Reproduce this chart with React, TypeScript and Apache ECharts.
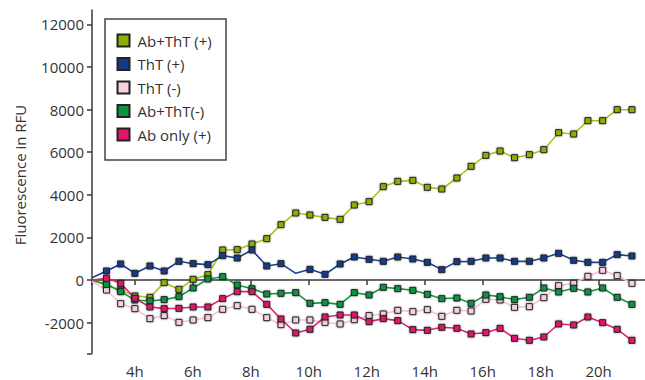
import React, { useEffect, useRef } from "react";
import * as echarts from "echarts";

const times = [2.52, 3.02, 3.51, 4.0, 4.52, 5.01, 5.52, 6.01, 6.52, 7.03, 7.53, 8.04, 8.55, 9.04, 9.55, 10.04, 10.56, 11.08, 11.57, 12.08, 12.57, 13.07, 13.59, 14.09, 14.59, 15.11, 15.6, 16.11, 16.6, 17.1, 17.61, 18.11, 18.62, 19.14, 19.63, 20.14, 20.64, 21.15];

const abThtPos = [-50, -235, -470, -750, -813, -125, -438, 31, 250, 1408, 1423, 1689, 1939, 2596, 3144, 3050, 2940, 2846, 3519, 3675, 4379, 4629, 4676, 4348, 4270, 4786, 5333, 5849, 6053, 5740, 5881, 6115, 6913, 6850, 7476, 7476, 7992, 7992];
const thtPos = [109, 422, 751, 313, 657, 422, 876, 766, 719, 1142, 1032, 1408, 657, 766, 313, 500, 266, 751, 1079, 970, 876, 1079, 985, 829, 485, 860, 876, 1032, 1032, 876, 876, 1032, 1251, 923, 829, 829, 1189, 1126];
const thtNeg = [-78, -469, -1110, -1345, -1814, -1673, -1986, -1877, -1767, -1376, -1204, -1376, -1767, -2096, -1877, -1877, -1990, -2064, -1861, -1673, -1595, -1423, -1486, -1392, -1705, -1423, -1455, -907, -938, -1282, -1251, -829, -266, -156, 172, 454, 203, -156];
const abThtNeg = [0, -203, -547, -938, -985, -923, -782, -375, 47, 156, -235, -407, -657, -626, -594, -1095, -1064, -1142, -594, -704, -344, -407, -485, -673, -876, -845, -1095, -704, -782, -923, -813, -375, -563, -391, -563, -375, -813, -1142];
const abOnly = [0, 78, -156, -860, -1267, -1345, -1329, -1267, -1267, -876, -547, -547, -1142, -1830, -2487, -2315, -1736, -1642, -1642, -1955, -1814, -1908, -2330, -2362, -2221, -2268, -2534, -2471, -2268, -2737, -2831, -2675, -2064, -2111, -1736, -2002, -2315, -2831];

const seriesNames = ["Ab+ThT (+)", "ThT (+)", "ThT (-)", "Ab+ThT(-)", "Ab only (+)"];
const xTickLabels = [4, 6, 8, 10, 12, 14, 16, 18, 20];
const yTickLabels = [-2000, 0, 2000, 4000, 6000, 8000, 10000, 12000];

const X_MIN = 2.52;
const X_MAX = 21.6;
const Y_MIN = -3440;
const Y_MAX = 12670;

const FONT = "'Open Sans', 'Noto Sans', sans-serif";

export default function App() {
  const ref = useRef<HTMLDivElement>(null);
  useEffect(() => {
    if (!ref.current) return;
    const chart = echarts.init(ref.current, undefined, { renderer: "svg" });

    const mk = (vals: number[], hidden: number[]) =>
      vals.map((v, i) =>
        hidden.includes(i) ? { value: [times[i], v], symbol: "none" } : { value: [times[i], v] }
      );

    const defs = [
      { name: seriesNames[0], vals: abThtPos, line: "#a8c61a", fill: "#8cb000", hidden: [0] },
      { name: seriesNames[1], vals: thtPos, line: "#1d3f8f", fill: "#163a8a", hidden: [0, 14] },
      { name: seriesNames[2], vals: thtNeg, line: "#f7c3d6", fill: "#f9cfe0", hidden: [0] },
      { name: seriesNames[3], vals: abThtNeg, line: "#129a45", fill: "#0a9440", hidden: [0] },
      { name: seriesNames[4], vals: abOnly, line: "#e4206f", fill: "#e0156c", hidden: [0] },
    ];

    chart.setOption({
      animation: false,
      textStyle: { fontFamily: FONT },
      grid: { left: 92, right: 0, top: 10, bottom: 26.7, containLabel: false },
      xAxis: {
        type: "value",
        min: X_MIN,
        max: X_MAX,
        axisLine: { show: true, lineStyle: { color: "#3a3a3a", width: 1.5 } },
        axisTick: {
          show: true,
          length: 5,
          inside: false,
          customValues: [X_MIN, ...xTickLabels],
          lineStyle: { color: "#3a3a3a", width: 1.5 },
        },
        axisLabel: {
          customValues: xTickLabels,
          formatter: (v: number) => `${v}h`,
          color: "#333",
          fontSize: 15,
          lineHeight: 15,
          margin: 10,
          fontFamily: FONT,
        },
        splitLine: { show: false },
      },
      yAxis: {
        type: "value",
        min: Y_MIN,
        max: Y_MAX,
        axisLine: { show: true, lineStyle: { color: "#3a3a3a", width: 1.5 } },
        axisTick: {
          show: true,
          length: 5,
          inside: false,
          customValues: [Y_MIN, ...yTickLabels],
          lineStyle: { color: "#3a3a3a", width: 1.5 },
        },
        axisLabel: {
          customValues: yTickLabels,
          formatter: (v: number) => String(v),
          color: "#333",
          fontSize: 15,
          margin: 8,
          fontFamily: FONT,
        },
        splitLine: { show: false },
      },
      legend: {
        orient: "vertical",
        left: 116.5,
        top: 33,
        padding: 0,
        itemWidth: 12,
        itemHeight: 12,
        itemGap: 8.5,
        z: 10,
        icon: "rect",
        data: seriesNames,
        textStyle: { fontSize: 15, color: "#333", fontFamily: FONT, lineHeight: 15, padding: [0, 0, 0, 3] },
      },
      graphic: [
        {
          type: "rect",
          z: 5,
          shape: { x: 105, y: 19, width: 121, height: 141 },
          style: { fill: "#fff", stroke: "#444", lineWidth: 1.5 },
        },
        {
          type: "text",
          x: 20,
          y: 175,
          rotation: Math.PI / 2,
          style: {
            text: "Fluorescence in RFU",
            fill: "#333",
            fontSize: 15,
            fontFamily: FONT,
            align: "center",
            verticalAlign: "middle",
          },
        },
      ],
      series: defs.map((d) => ({
        name: d.name,
        type: "line",
        data: mk(d.vals, d.hidden),
        symbol: "rect",
        symbolSize: 6,
        showAllSymbol: true,
        lineStyle: { color: d.line, width: 1.6 },
        itemStyle: {
          color: d.fill,
          borderColor: "#222",
          borderWidth: 1,
          shadowColor: "rgba(0,0,0,0.45)",
          shadowBlur: 2,
        },
        emphasis: { disabled: true },
      })),
    });
    return () => chart.dispose();
  }, []);

  return (
    <div
      ref={ref}
      style={{ position: "fixed", left: 0, top: 0, width: 645, height: 380, background: "#fff" }}
    />
  );
}
